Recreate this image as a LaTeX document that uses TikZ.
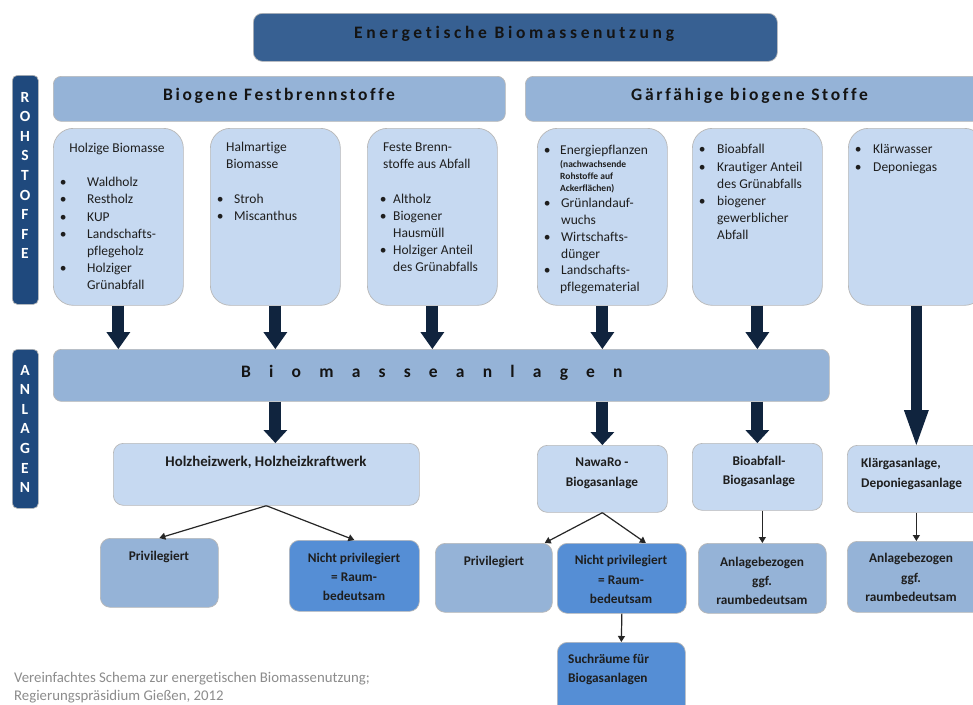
\documentclass[tikz,border=0pt]{standalone}
\usepackage{fontspec}
\setmainfont{Carlito}[Ligatures={TeX,NoCommon}]
\usetikzlibrary{arrows.meta,calc}
\definecolor{topblue}{HTML}{376092}
\definecolor{barblue}{HTML}{1F497D}
\definecolor{midblue}{HTML}{95B3D7}
\definecolor{lightblue}{HTML}{C6D9F1}
\definecolor{strongblue}{HTML}{558ED5}
\definecolor{navy}{HTML}{10243E}
\definecolor{txt}{HTML}{1E1E1E}
\definecolor{capgray}{HTML}{8C8C8C}
\newcommand\tst{\rule{0pt}{12pt}}
\newcommand\tsts{\rule{0pt}{8pt}}
\newcommand\bl[1]{\makebox[0pt]{\textbullet}\hspace{#1}}
\begin{document}
\begin{tikzpicture}[x=1pt,y=-1pt,
  boxbase/.style={draw=black!28, line width=0.7pt, inner sep=0pt, anchor=north west},
  topbox/.style={boxbase, fill=topblue, rounded corners=9pt},
  vbar/.style={boxbase, fill=barblue, rounded corners=5pt},
  hbar/.style={boxbase, fill=midblue, rounded corners=8pt},
  bigbox/.style={boxbase, fill=lightblue, rounded corners=20pt},
  plant/.style={boxbase, fill=lightblue, rounded corners=10pt},
  privbox/.style={boxbase, fill=midblue, rounded corners=10pt},
  strongbox/.style={boxbase, fill=strongblue, rounded corners=10pt},
  body/.style={inner sep=0pt, anchor=north west, align=left, text=txt, font=\fontsize{13.5}{17.2}\selectfont},
  note/.style={inner sep=0pt, anchor=north west, align=left, text=txt, font=\bfseries\fontsize{9.5}{12}\selectfont},
  lab/.style={inner sep=0pt, anchor=north, align=center, text=txt, font=\bfseries\fontsize{13.3}{19.5}\selectfont},
  head/.style={inner sep=0pt, anchor=west, text=black!92, font=\bfseries\fontsize{17.5}{20}\selectfont\addfontfeatures{LetterSpace=#1}},
  vlet/.style={inner sep=0pt, anchor=north, align=center, text=white, font=\bfseries\fontsize{15.5}{19.6}\selectfont},
  caption/.style={inner sep=0pt, anchor=north west, align=left, text=capgray, font=\fontsize{14.8}{17.5}\selectfont},
  fat/.style={draw=navy, line width=12pt, -{Triangle[width=24pt,length=17pt,line width=0pt]}},
  fatshort/.style={draw=navy, line width=12pt, -{Triangle[width=24pt,length=13pt,line width=0pt]}},
  fatlong/.style={draw=navy, line width=11pt, -{Triangle[width=25pt,length=35pt,line width=0pt]}},
  thin/.style={draw=black!85, line width=1.2pt, -{Triangle[width=7pt,length=6pt]}}
]
\path[fill=white, use as bounding box] (0,0) rectangle (973,704);

% top
\node[topbox, minimum width=524pt, minimum height=48pt] (top) at (253,13) {};
\node[head=21] (ttop) at (354,33.5) {Energetische Biomassenutzung};

% side bars
\node[vbar, minimum width=26pt, minimum height=229pt] (roh) at (12,75) {};
\node[vlet] (troh) at (25,89.8) {\tst R\\O\\H\\S\\T\\O\\F\\F\\E};
\node[vbar, minimum width=26pt, minimum height=159pt] (anlv) at (12,349) {};
\node[vlet] (tanlv) at (25,362.8) {\tst A\\N\\L\\A\\G\\E\\N};

% category bars
\node[hbar, minimum width=452pt, minimum height=45pt] (fest) at (53,76) {};
\node[head=15] (tfest) at (163,95.5) {Biogene Festbrennstoffe};
\node[hbar, minimum width=470pt, minimum height=45pt] (gaer) at (525,76) {};
\node[head=15.5] (tgaer) at (631,95.5) {Gärfähige biogene Stoffe};

% raw material boxes
\node[bigbox, minimum width=130pt, minimum height=177pt] (b1) at (53,128) {};
\node[bigbox, minimum width=130pt, minimum height=177pt] (b2) at (210,128) {};
\node[bigbox, minimum width=130pt, minimum height=177pt] (b3) at (367,128) {};
\node[bigbox, minimum width=130pt, minimum height=177pt] (b4) at (537,128) {};
\node[bigbox, minimum width=130pt, minimum height=177pt] (b5) at (692,128) {};
\node[bigbox, minimum width=136pt, minimum height=177pt] (b6) at (848,128) {};

\node[body, anchor=north] (t1a) at (117,140.7) {\tst Holzige Biomasse};
\node[body] (t1b) at (63,174.5) {\tst\bl{24pt}Waldholz\\\bl{24pt}Restholz\\\bl{24pt}KUP\\\bl{24pt}Landschafts-\\\hspace*{24pt}pflegeholz\\\bl{24pt}Holziger\\\hspace*{24pt}Grünabfall};

\node[body, font=\fontsize{13.5}{17}\selectfont] (t2a) at (226,139.7) {\tst Halmartige\\Biomasse};
\node[body, font=\fontsize{13.5}{17}\selectfont] (t2b) at (220,191.5) {\tst\bl{14pt}Stroh\\\bl{14pt}Miscanthus};

\node[body, font=\fontsize{13.5}{17}\selectfont] (t3a) at (383,139.7) {\tst Feste Brenn-\\stoffe aus Abfall};
\node[body, font=\fontsize{13.5}{17}\selectfont] (t3b) at (383,191.5) {\tst\bl{10pt}Altholz\\\bl{10pt}Biogener\\\hspace*{10pt}Hausmüll\\\bl{10pt}Holziger Anteil\\\hspace*{10pt}des Grünabfalls};

\node[body] (t4a) at (547,142.7) {\tst\bl{13pt}Energiepflanzen};
\node[note] (t4n) at (560,159.3) {\tsts(nachwachsende\\Rohstoffe auf\\Ackerflächen)};
\node[body, font=\fontsize{13.5}{16.8}\selectfont] (t4b) at (547,195.5) {\tst\bl{14pt}Grünlandauf-\\\hspace*{14pt}wuchs\\\bl{14pt}Wirtschafts-\\\hspace*{14pt}dünger\\\bl{14pt}Landschafts-\\\hspace*{13pt}pflegematerial};

\node[body] (t5) at (702,141.7) {\tst\bl{15pt}Bioabfall\\\bl{15pt}Krautiger Anteil\\\hspace*{15pt}des Grünabfalls\\\bl{15pt}biogener\\\hspace*{15pt}gewerblicher\\\hspace*{15pt}Abfall};

\node[body, font=\fontsize{13.5}{18}\selectfont] (t6) at (858,141.7) {\tst\bl{15pt}Klärwasser\\\bl{15pt}Deponiegas};

% Biomasseanlagen bar
\node[hbar, minimum width=776pt, minimum height=52pt] (anl) at (53,349) {};
\node[head=104] (tanl) at (241,372.5) {Biomasseanlagen};

% plant boxes
\node[plant, minimum width=306pt, minimum height=62pt] (holz) at (113,443) {};
\node[lab, font=\bfseries\fontsize{14.8}{19.5}\selectfont] (tholz) at (266,454.3) {\tst Holzheizwerk, Holzheizkraftwerk};
\node[plant, minimum width=130pt, minimum height=67pt] (nawa) at (537,445) {};
\node[lab, font=\bfseries\fontsize{13.3}{20}\selectfont] (tnawa) at (602,454.7) {\tst NawaRo -\\Biogasanlage};
\node[plant, minimum width=130pt, minimum height=67pt] (bio) at (692,443) {};
\node[lab, font=\bfseries\fontsize{13.3}{19}\selectfont] (tbio) at (759,453.7) {\tst Bioabfall-\\Biogasanlage};
\node[plant, minimum width=138pt, minimum height=67pt] (klaer) at (847,445) {};
\node[lab, anchor=north west, align=left, font=\bfseries\fontsize{13.3}{20}\selectfont] (tklaer) at (861,455.7) {\tst Klärgasanlage,\\Deponiegasanlage};

% result boxes
\node[privbox, minimum width=118pt, minimum height=69pt] (priv1) at (100,538) {};
\node[lab] (tpriv1) at (159,548.7) {\tst Privilegiert};
\node[strongbox, minimum width=130pt, minimum height=71pt] (np1) at (289,540) {};
\node[lab, font=\bfseries\fontsize{13.3}{19}\selectfont] (tnp1) at (354,550.7) {\tst Nicht privilegiert\\= Raum-\\bedeutsam};
\node[privbox, minimum width=117pt, minimum height=69pt] (priv2) at (435,543) {};
\node[lab] (tpriv2) at (494,553.7) {\tst Privilegiert};
\node[strongbox, minimum width=129pt, minimum height=70pt] (np2) at (557,543) {};
\node[lab] (tnp2) at (621,552.7) {\tst Nicht privilegiert\\= Raum-\\bedeutsam};
\node[privbox, minimum width=128pt, minimum height=70pt] (anlm) at (698,543) {};
\node[lab, font=\bfseries\fontsize{13.3}{19}\selectfont] (tanlm) at (762,554.7) {\tst Anlagebezogen\\ggf.\\raumbedeutsam};
\node[privbox, minimum width=138pt, minimum height=71pt] (anlr) at (847,541) {};
\node[lab] (tanlr) at (911,550.7) {\tst Anlagebezogen\\ggf.\\raumbedeutsam};
\node[strongbox, minimum width=128pt, minimum height=80pt] (such) at (557,642) {};
\node[lab, anchor=north west, align=left, font=\bfseries\fontsize{13.3}{19}\selectfont] (tsuch) at (568,651.7) {\tst Suchräume für\\Biogasanlagen};

% caption
\node[caption] (cap) at (14,670.5) {\tst Vereinfachtes Schema zur energetischen Biomassenutzung;\\Regierungspräsidium Gießen, 2012};

% thick arrows
\foreach \b in {b1,b2,b3,b4,b5}
  \draw[fat] (\b.south) -- (anl.north -| \b.south);
\draw[fatlong] (b6.south) -- (klaer.north);
\draw[fatshort] (anl.south -| b2.south) -- (holz.north -| b2.south);
\draw[fatshort] (anl.south -| b4.south) -- (nawa.north -| b4.south);
\draw[fatshort] (anl.south -| b5.south) -- (bio.north -| b5.south);

% thin arrows
\draw[thin] (holz.south) -- (priv1.north);
\draw[thin] (holz.south) -- (np1.north);
\draw[thin] (nawa.south) -- ($(priv2.north east)+(-8,0)$);
\draw[thin] (nawa.south) -- ($(np2.north)+(24,0)$);
\draw[thin] (anlm.north |- bio.south) -- (anlm.north);
\draw[thin] (klaer.south) -- (anlr.north);
\draw[thin] (np2.south) -- (such.north);
\end{tikzpicture}
\end{document}
